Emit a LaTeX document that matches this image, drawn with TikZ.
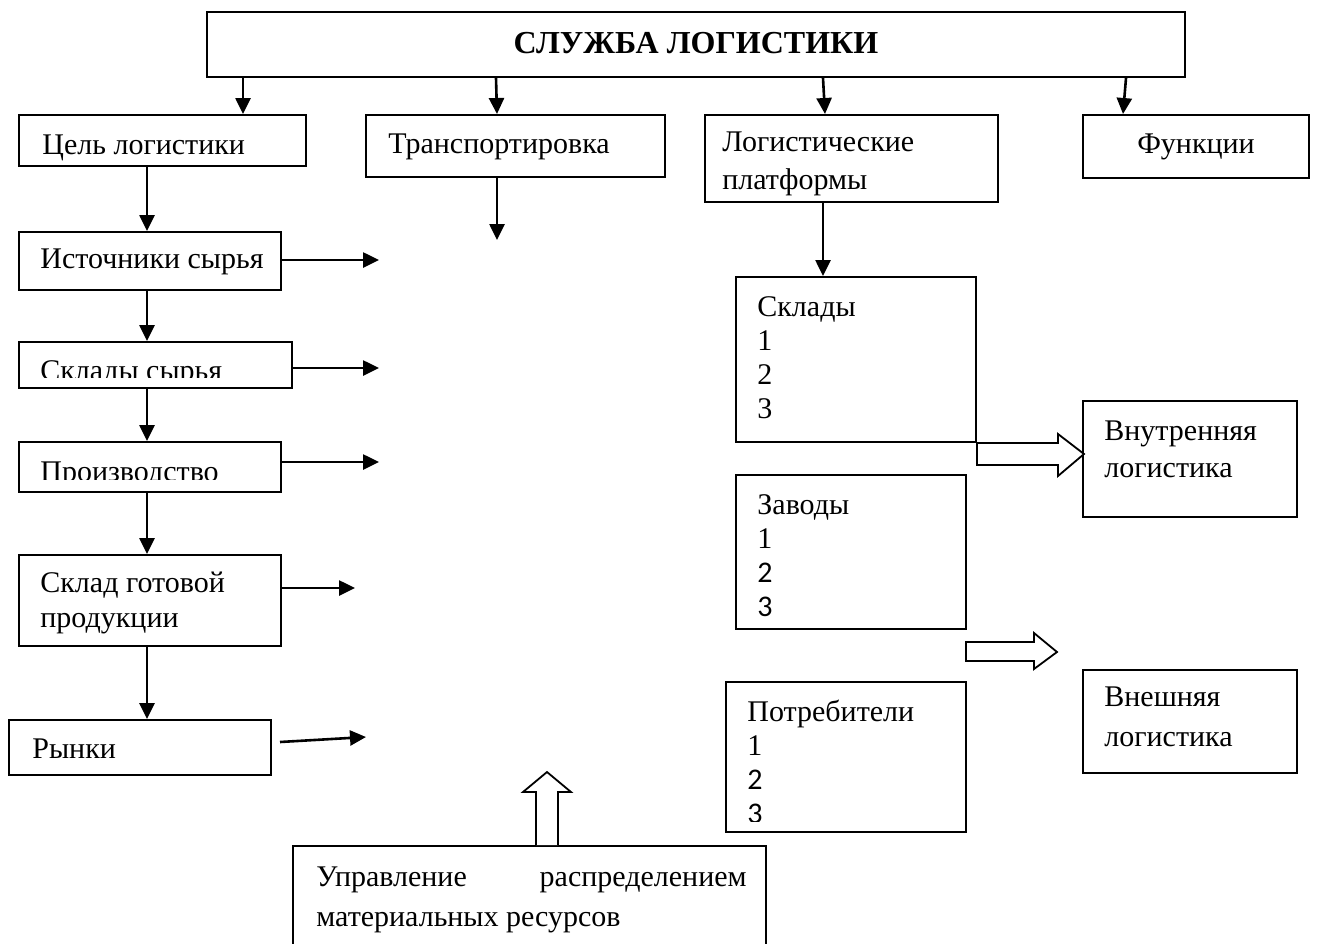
\documentclass[tikz,border=0pt]{standalone}
\usepackage{fontspec}
\setmainfont{Liberation Serif}
\newfontfamily\sansdigits{Carlito}
\usetikzlibrary{arrows.meta,calc,fit}

\begin{document}
\begin{tikzpicture}[x=0.5pt,y=-0.5pt,
  box/.style={draw, line width=1pt, inner sep=0pt},
  txt/.style={anchor=base west, inner sep=0pt, font=\fontsize{15pt}{17pt}\selectfont},
  arr/.style={line width=1.3pt, -{Triangle[length=8pt,width=7.5pt]}},
  fatarrow/.style={draw, line width=0.9pt, fill=white, line join=miter}]

\useasboundingbox (0,0) rectangle (1317,943);
\fill[white] (0,0) rectangle (1317,943);
\clip (0,0) rectangle (1317,943);

% ---- top level
\node[box, fit={(207,12) (1185,77)}] (title) {};
\node[anchor=base, inner sep=0pt, font=\fontsize{16pt}{18pt}\selectfont\bfseries] (titleT) at (696,53) {СЛУЖБА ЛОГИСТИКИ};

\node[box, fit={(19,115) (306,166)}] (cel) {};
\node[txt] (celT) at (42,154) {Цель логистики};

\node[box, fit={(366,115) (665,177)}] (trans) {};
\node[txt] (transT) at (388,153) {Транспортировка};

\node[box, fit={(705,115) (998,202)}] (plat) {};
\node[txt] (platT1) at (722,151) {Логистические};
\node[txt] (platT2) at (722,189) {платформы};

\node[box, fit={(1083,115) (1309,178)}] (func) {};
\node[txt, anchor=base] (funcT) at (1196,153) {Функции};

% ---- left chain
\node[box, fit={(19,232) (281,290)}] (ist) {};
\node[txt] (istT) at (40,268) {Источники сырья};

\node[box, fit={(19,342) (292,388)}] (sklsyr) {};
\begin{scope}
  \clip (19,342) rectangle (292,377.5);
  \node[txt] (sklsyrT) at (40,380) {Склады сырья};
\end{scope}

\node[box, fit={(19,442) (281,492)}] (proizv) {};
\begin{scope}
  \clip (19,442) rectangle (281,479);
  \node[txt] (proizvT) at (40,481) {Производство};
\end{scope}

\node[box, fit={(19,555) (281,646)}] (gotov) {};
\node[txt] (gotovT1) at (40,592) {Склад готовой};
\node[txt] (gotovT2) at (40,627) {продукции};

\node[box, fit={(9,720) (271,775)}] (rynki) {};
\node[txt] (rynkiT) at (32,758) {Рынки};

% ---- platforms column
\node[box, fit={(736,277) (976,442)}] (skl) {};
\node[txt] (sklT0) at (757,316) {Склады};
\node[txt] (sklT1) at (757,350) {1};
\node[txt] (sklT2) at (757,384) {2};
\node[txt] (sklT3) at (757,418) {3};

\node[box, fit={(736,475) (966,629)}] (zav) {};
\node[txt] (zavT0) at (757,514) {Заводы};
\node[txt] (zavT1) at (757,548) {1};
\node[txt, font=\fontsize{15pt}{17pt}\sansdigits] (zavT2) at (757,582) {2};
\node[txt, font=\fontsize{15pt}{17pt}\sansdigits] (zavT3) at (757,616) {3};

\node[box, fit={(726,682) (966,832)}] (potr) {};
\node[txt] (potrT0) at (747,721) {Потребители};
\node[txt] (potrT1) at (747,755) {1};
\node[txt, font=\fontsize{15pt}{17pt}\sansdigits] (potrT2) at (747,789) {2};
\begin{scope}
  \clip (726,682) rectangle (966,821);
  \node[txt, font=\fontsize{15pt}{17pt}\sansdigits] (potrT3) at (747,823) {3};
\end{scope}

\node[box, fit={(1083,401) (1297,517)}] (vnut) {};
\node[txt] (vnutT1) at (1104,440) {Внутренняя};
\node[txt] (vnutT2) at (1104,477) {логистика};

\node[box, fit={(1083,670) (1297,773)}] (vnesh) {};
\node[txt] (vneshT1) at (1104,706) {Внешняя};
\node[txt] (vneshT2) at (1104,746) {логистика};

% ---- bottom box, running past the lower edge
\node[box, fit={(293,846) (766,960)}] (upr) {};
\node[txt] (uprT1) at (316,886) {Управление};
\node[txt, anchor=base east] (uprT2) at (747,886) {распределением};
\node[txt] (uprT3) at (316,926) {материальных ресурсов};

% ---- arrows from the title
\draw[arr] (243,0 |- title.south) -- (243,0 |- cel.north);
\draw[arr] (496,0 |- title.south) -- (497,0 |- trans.north);
\draw[arr] (823,0 |- title.south) -- (825,0 |- plat.north);
\draw[arr] (1126,0 |- title.south) -- (1123,0 |- func.north);

% ---- vertical chain
\draw[arr] (147,0 |- cel.south) -- (147,0 |- ist.north);
\draw[arr] (147,0 |- ist.south) -- (147,0 |- sklsyr.north);
\draw[arr] (147,0 |- sklsyr.south) -- (147,0 |- proizv.north);
\draw[arr] (147,0 |- proizv.south) -- (147,0 |- gotov.north);
\draw[arr] (147,0 |- gotov.south) -- (147,0 |- rynki.north);

\coordinate (transEnd) at (497,240);
\draw[arr] (497,0 |- trans.south) -- (transEnd);

% ---- side arrows of the chain
\coordinate (istEnd) at (379,260);
\coordinate (sklsyrEnd) at (379,368);
\coordinate (proizvEnd) at (379,462);
\coordinate (gotovEnd) at (355,588);
\coordinate (rynkiStart) at (280,742);
\coordinate (rynkiEnd) at (366,737);
\draw[arr] (ist.east |- istEnd) -- (istEnd);
\draw[arr] (sklsyr.east |- sklsyrEnd) -- (sklsyrEnd);
\draw[arr] (proizv.east |- proizvEnd) -- (proizvEnd);
\draw[arr] (gotov.east |- gotovEnd) -- (gotovEnd);
\draw[arr] (rynkiStart) -- (rynkiEnd);

% ---- platforms to warehouses
\draw[arr] (823,0 |- plat.south) -- (823,0 |- skl.north);

% ---- hollow block arrows
\draw[fatarrow] (skl.south east) -- ++(81,0) -- ++(0,-9) -- ++(26,20)
  -- ++(-26,22) -- ++(0,-11) -- ++(-81,0) -- cycle;
\coordinate (zavArr) at (966,642);
\draw[fatarrow] (zavArr) -- ++(68,0) -- ++(0,-9) -- ++(23,19)
  -- ++(-23,17) -- ++(0,-8) -- ++(-68,0) -- cycle;
\draw[fatarrow] (536,0 |- upr.north) -- ++(0,-53) -- ++(-13,0) -- ++(24,-20)
  -- ++(24,20) -- ++(-13,0) -- ++(0,53);
\end{tikzpicture}
\end{document}
